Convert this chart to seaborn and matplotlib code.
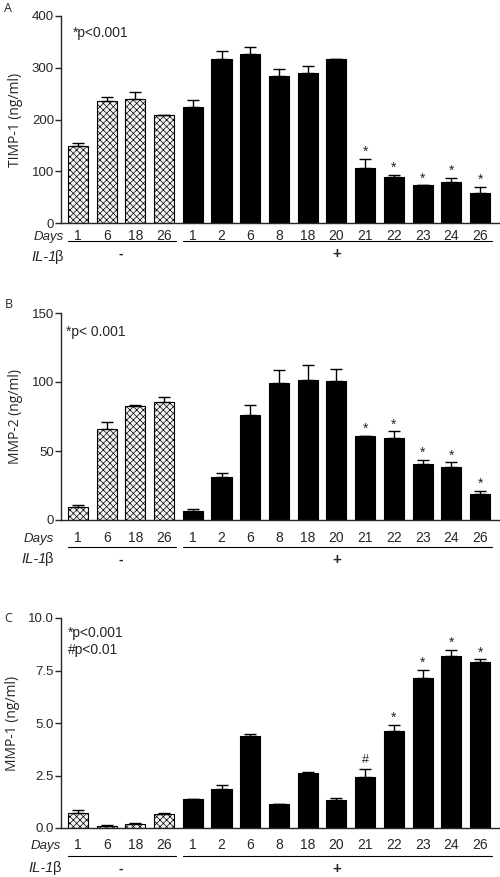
import matplotlib
matplotlib.use("Agg")
import matplotlib.pyplot as plt
import matplotlib.transforms as mtransforms
import seaborn as sns
import pandas as pd
import numpy as np

# data
days = ["1", "6", "18", "26", "1", "2", "6", "8", "18", "20", "21", "22", "23", "24", "26"]
il1b = ["-"] * 4 + ["+"] * 11

timp1 = [149, 235, 239, 208, 224, 316, 326, 285, 289, 316, 106, 88, 73, 80, 58]
timp1_err = [5, 9, 15, 1, 14, 17, 14, 12, 14, 1, 18, 5, 0, 7, 12]
timp1_sig = [""] * 10 + ["*"] * 5

mmp2 = [9.1, 66.3, 82.9, 85.6, 6.7, 30.8, 75.9, 99.3, 101.2, 100.5, 60.6, 59.6, 40.4, 38.2, 18.7]
mmp2_err = [1.5, 4.8, 0.5, 3.8, 1.0, 3.3, 7.5, 9.6, 11.0, 9.1, 0.4, 4.8, 3.4, 3.6, 2.5]
mmp2_sig = [""] * 10 + ["*"] * 5

mmp1 = [0.72, 0.08, 0.19, 0.67, 1.37, 1.87, 4.39, 1.12, 2.60, 1.31, 2.44, 4.61, 7.16, 8.20, 7.89]
mmp1_err = [0.13, 0.08, 0.07, 0.03, 0.03, 0.17, 0.11, 0.03, 0.08, 0.11, 0.37, 0.30, 0.37, 0.30, 0.15]
mmp1_sig = [""] * 10 + ["#", "*", "*", "*", "*"]

sns.set_style("ticks")
plt.rcParams["font.family"] = ["Liberation Sans", "DejaVu Sans"]
plt.rcParams["hatch.linewidth"] = 0.5

W, H = 500, 877
fig = plt.figure(figsize=(W / 100, H / 100), dpi=100)

panels = [
    # letter, values, errors, marks, ylabel, ylim, yticks, ytick fmt, notes, axes top/bottom px, rows px, label right px
    ("A", timp1, timp1_err, timp1_sig, "TIMP-1 (ng/ml)", 400, [0, 100, 200, 300, 400], "{:.0f}",
     [(73, 33, "*p<0.001")], 16, 223, (13, 18, 34, 31), 64, 4, 8),
    ("B", mmp2, mmp2_err, mmp2_sig, "MMP-2 (ng/ml)", 150, [0, 50, 100, 150], "{:.0f}",
     [(66, 332, "*p< 0.001")], 313, 520, (18, 27, 39, 40), 54, 5, 305),
    ("C", mmp1, mmp1_err, mmp1_sig, "MMP-1 (ng/ml)", 10, [0, 2.5, 5, 7.5, 10], "{:.1f}",
     [(68, 633, "*p<0.001"), (68, 650, "#p<0.01")], 618, 828, (17, 28, 40, 41), 61, 4, 618),
]

for (letter, vals, errs, sig, ylabel, ymax, yticks, yfmt, notes, top, bottom,
     rows, lab_x, let_x, let_y) in panels:
    hpx = bottom - top
    ax = fig.add_axes([61 / W, 1 - bottom / H, 438 / W, hpx / H])
    df = pd.DataFrame({"pos": range(len(vals)), "val": vals})
    sns.barplot(data=df, x="pos", y="val", color="black", width=0.7,
                errorbar=None, saturation=1, ax=ax)
    for i, p in enumerate(ax.patches):
        p.set_edgecolor("black")
        p.set_linewidth(0.8)
        if il1b[i] == "-":
            p.set_facecolor("#f4f4f4")
            p.set_hatch("xxxxx")
    x = np.arange(len(vals))
    ax.errorbar(x, vals, yerr=[np.zeros(len(vals)), errs], fmt="none",
                ecolor="black", elinewidth=1, capsize=4.5, capthick=1)
    for i, s in enumerate(sig):
        if s:
            off = 2 if s == "*" else 4
            ax.annotate(s, (x[i], vals[i] + errs[i]), xytext=(0, off),
                        textcoords="offset points", ha="center", va="baseline",
                        fontsize=10 if s == "*" else 9)

    ax.set_xlim(-0.59, 14.66)
    ax.set_ylim(0, ymax)
    ax.set_yticks(yticks)
    ax.set_yticklabels([yfmt.format(t) for t in yticks])
    ax.tick_params(axis="y", length=4, width=1, labelsize=9.5, pad=1)
    ax.set_xticks([])
    ax.set_xlabel("")
    ax.set_ylabel(ylabel, fontsize=10, family=["Open Sans", "DejaVu Sans"], labelpad=6)
    sns.despine(ax=ax)
    for sp in ["left", "bottom"]:
        ax.spines[sp].set_linewidth(1)

    tr = mtransforms.blended_transform_factory(ax.transData, ax.transAxes)
    d_row, l_row, i_row, s_row = [-r / hpx for r in rows]
    for i, d in enumerate(days):
        ax.text(x[i], d_row, d, transform=tr, ha="center", va="center", fontsize=10)
    ax.plot([-0.35, 3.4], [l_row, l_row], transform=tr, color="black", lw=0.8, clip_on=False)
    ax.plot([3.65, 14.4], [l_row, l_row], transform=tr, color="black", lw=0.8, clip_on=False)
    ax.text(1.5, s_row, "-", transform=tr, ha="center", va="center", fontsize=10, fontweight="bold")
    ax.text(9.0, s_row, "+", transform=tr, ha="center", va="center", fontsize=11, fontweight="bold")

    fig.text(lab_x / W, 1 - (bottom + rows[0] + 1) / H, "Days", ha="right", va="center",
             fontsize=9.5, style="italic")
    # IL-1 in italics, beta upright
    fig.text((lab_x - 7) / W, 1 - (bottom + rows[2]) / H, "IL-1", ha="right", va="center",
             fontsize=10.5, style="italic")
    fig.text(lab_x / W, 1 - (bottom + rows[2]) / H, "β", ha="right", va="center",
             fontsize=10.5)
    fig.text(let_x / W, 1 - let_y / H, letter, ha="left", va="center", fontsize=9,
             family=["Open Sans", "DejaVu Sans"])
    for nx, ny, nt in notes:
        fig.text(nx / W, 1 - ny / H, nt, ha="left", va="center", fontsize=10)

fig.savefig("out.png", dpi=100)
